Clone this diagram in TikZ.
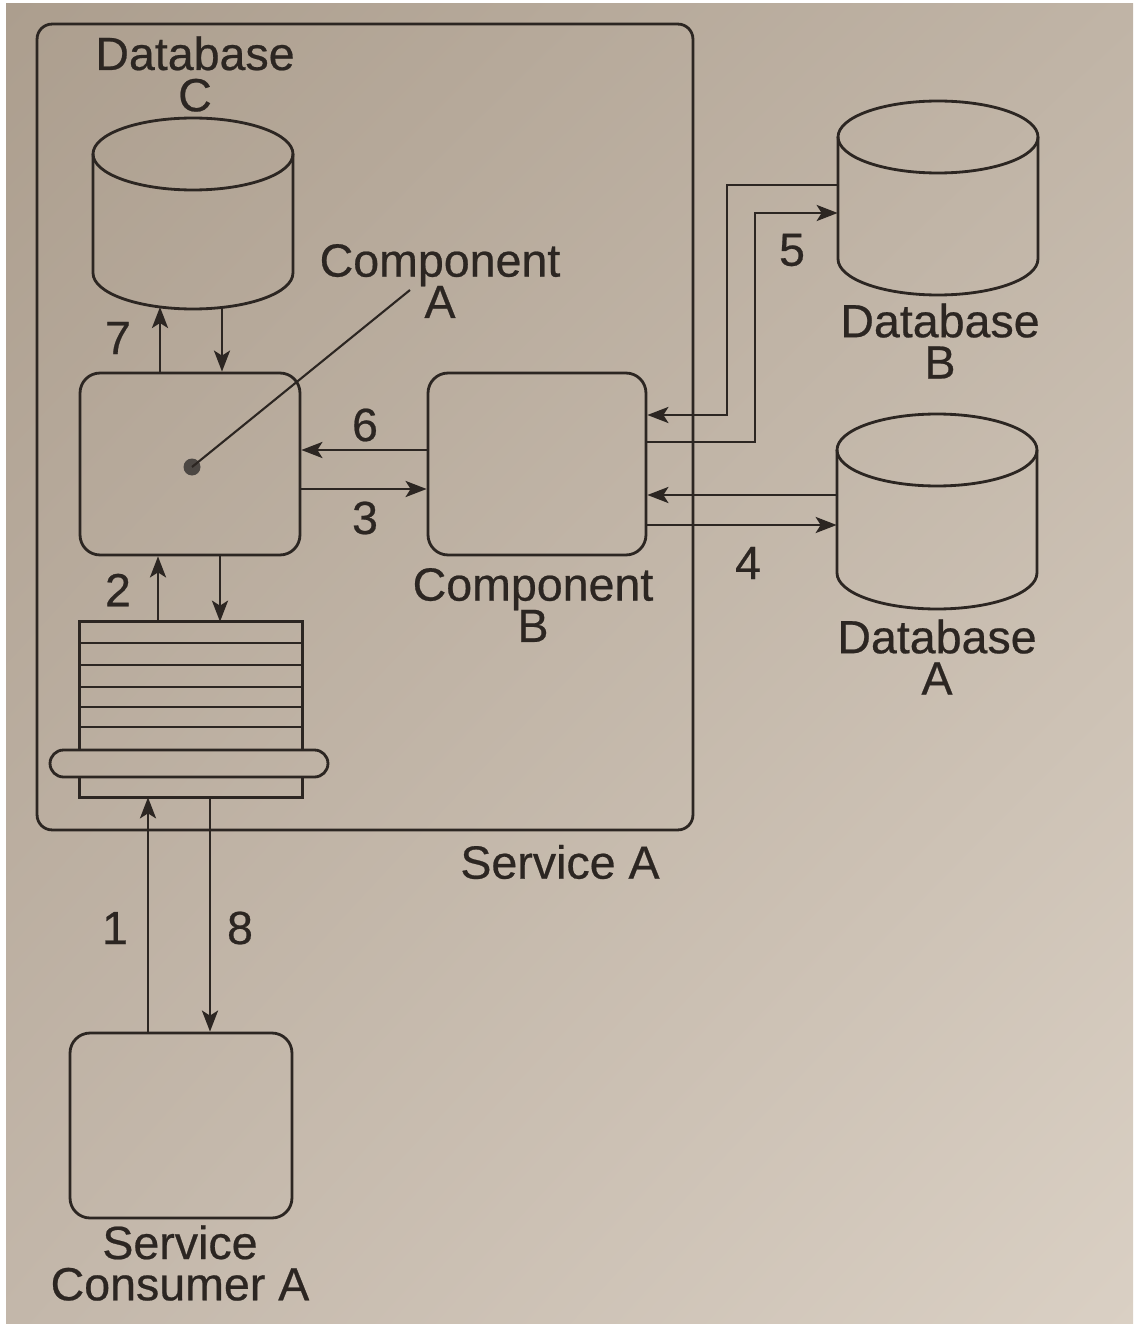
\documentclass[tikz,border=0pt]{standalone}
\usepackage{fontspec}
\setmainfont{Liberation Sans}
\newfontfamily\lblfont[FakeBold=0.5]{Liberation Sans}
\usetikzlibrary{arrows.meta,shadings}

\definecolor{paperUL}{RGB}{172,158,142}
\definecolor{paperUR}{RGB}{192,180,166}
\definecolor{paperLL}{RGB}{195,183,170}
\definecolor{paperLR}{RGB}{218,208,196}
\definecolor{ink}{RGB}{44,38,34}

% cylinder: name, centre x, y of top ellipse, y of bottom arc
\newcommand{\dbdrum}[4]{%
  \node[minimum width=4cm, minimum height={(#4-#3)*0.02cm}, inner sep=0pt] (#1) at (#2,{(#3+#4)/2}) {};
  \draw[line] (#2,#3) ellipse[x radius=2cm, y radius=0.72cm];
  \draw[line] ({#2-100},#3) -- ({#2-100},#4)
    arc[start angle=180, end angle=360, x radius=2cm, y radius=0.72cm] -- ({#2+100},#3);
}

\begin{document}
\lineskiplimit=-50pt\relax
\begin{tikzpicture}[x=0.02cm, y=-0.02cm,
  line/.style={draw=ink, line width=1.6pt},
  flow/.style={line, -{Stealth[length=0.42cm, width=0.32cm, inset=0.1cm]}},
  box/.style={line, rounded corners=0.4cm, inner sep=0pt},
  lbl/.style={text=ink, font=\lblfont\fontsize{26.5}{23.5}\selectfont, align=center, inner sep=0pt},
  num/.style={text=ink, font=\lblfont\fontsize{26.5}{23.5}\selectfont, inner sep=0pt}]

\useasboundingbox (0,0) rectangle (1133,1324);

% ===== 背景 =====
\fill[white] (0,0) rectangle (1133,1324);
\shade[upper left=paperUL, upper right=paperUR, lower left=paperLL, lower right=paperLR]
  (6,4) rectangle (1133,1324);

% ===== Service A =====
\node[box, rounded corners=0.3cm, minimum width=13.12cm, minimum height=16.12cm] (svcA) at (365,427) {};
\node[lbl] (svcA-lbl) at (560,862) {Service A};

% ===== データベース =====
\dbdrum{dbC}{193}{154}{273}
\dbdrum{dbB}{938}{137}{259}
\dbdrum{dbA}{937}{450}{573}
\node[lbl] (dbC-lbl) at (195,74) {Database\\C};
\node[lbl] (dbB-lbl) at (940,341) {Database\\B};
\node[lbl] (dbA-lbl) at (937,657) {Database\\A};

% ===== コンポーネント =====
\node[box, minimum width=4.4cm, minimum height=3.64cm] (compA) at (190,464) {};
\node[box, minimum width=4.36cm, minimum height=3.64cm] (compB) at (537,464) {};
\node[lbl] (compA-lbl) at (440,281) {Component\\A};
\node[lbl] (compB-lbl) at (533,605) {Component\\B};

% Component A の引き出し線
\node[circle, fill=ink!85, inner sep=0pt, minimum size=0.34cm] (dotA) at (192,467) {};
\coordinate (leadA) at (410,290);
\draw[ink, line width=1.2pt] (dotA.center) -- (leadA);

% ===== キュー =====
\node[inner sep=0pt, minimum width=4.44cm, minimum height=3.5cm] (queue) at (191,709.5) {};
\node[line, rounded corners=0.27cm, inner sep=0pt, minimum width=5.56cm, minimum height=0.54cm] (ring) at (189,763.5) {};
\draw[line] (ring.north -| queue.west) -- (queue.north west) -- (queue.north east) -- (ring.north -| queue.east);
\draw[line] (ring.south -| queue.west) -- (queue.south west) -- (queue.south east) -- (ring.south -| queue.east);
\foreach \y in {643,665,687,707,727}
  \draw[line] (queue.west |- 0,\y) -- (queue.east |- 0,\y);

% ===== Service Consumer A =====
\node[box, minimum width=4.44cm, minimum height=3.7cm] (consumer) at (181,1125.5) {};
\node[lbl] (consumer-lbl) at (180,1263) {Service\\Consumer A};

% ===== 矢印 =====
% 1, 8
\draw[flow] (consumer.north -| 148,0) -- (queue.south -| 148,0);
\draw[flow] (queue.south -| 210,0) -- (consumer.north -| 210,0);
% 2
\draw[flow] (queue.north -| 158,0) -- (compA.south -| 158,0);
\draw[flow] (compA.south -| 220,0) -- (queue.north -| 220,0);
% 7
\coordinate (dbC-up) at (160,307);
\coordinate (dbC-dn) at (222,308);
\draw[flow] (compA.north -| 160,0) -- (dbC-up);
\draw[flow] (dbC-dn) -- (compA.north -| 222,0);
% 3, 6
\draw[flow] (compB.west |- 0,450) -- (compA.east |- 0,450);
\draw[flow] (compA.east |- 0,489) -- (compB.west |- 0,489);
% 4
\draw[flow] (dbA.west |- 0,495) -- (compB.east |- 0,495);
\draw[flow] (compB.east |- 0,525) -- (dbA.west |- 0,525);
% 5
\draw[flow] (dbB.west |- 0,185) -| (727,300) |- (compB.east |- 0,415);
\draw[flow] (compB.east |- 0,442) -| (755,300) |- (dbB.west |- 0,213);

% 番号
\node[num] (n1) at (115,928) {1};
\node[num] (n2) at (118,590) {2};
\node[num] (n3) at (365,518) {3};
\node[num] (n4) at (748,563) {4};
\node[num] (n5) at (792,250) {5};
\node[num] (n6) at (365,425) {6};
\node[num] (n7) at (118,338) {7};
\node[num] (n8) at (240,928) {8};

\end{tikzpicture}
\end{document}
